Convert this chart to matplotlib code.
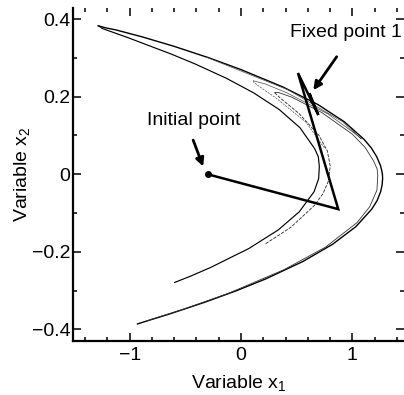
import matplotlib
matplotlib.use("Agg")
import matplotlib.pyplot as plt
from matplotlib.ticker import MultipleLocator

plt.rcParams['font.family'] = ['Liberation Sans', 'DejaVu Sans']
plt.rcParams['mathtext.fontset'] = 'custom'
plt.rcParams['mathtext.rm'] = 'Liberation Sans'
plt.rcParams['mathtext.it'] = 'Liberation Sans'

# ---- attractor strands ----
outer_x = [-0.93, -0.876, -0.639, -0.325, -0.038, 0.221, 0.556, 0.826, 1.033, 1.175, 1.223,
           1.255, 1.268, 1.273, 1.271, 1.263, 1.253, 1.220, 1.171, 1.106, 0.930, 0.690, 0.377,
           -0.001, -0.286, -0.603, -0.885, -1.121, -1.223, -1.285]
outer_y = [-0.386, -0.381, -0.36, -0.33, -0.30, -0.27, -0.225, -0.18, -0.135, -0.09, -0.068,
           -0.045, -0.028, -0.011, 0.0, 0.012, 0.023, 0.045, 0.068, 0.09, 0.135, 0.18, 0.225,
           0.27, 0.30, 0.33, 0.354, 0.372, 0.378, 0.383]

second_x = [-1.275, -1.248, -1.160, -1.023, -0.628, -0.417, -0.135, 0.113, 0.343, 0.530, 0.662,
            0.695, 0.704, 0.698, 0.657, 0.523, 0.333, 0.200, 0.068, -0.060, -0.270, -0.455, -0.597]
second_y = [0.382, 0.376, 0.367, 0.353, 0.310, 0.285, 0.248, 0.210, 0.167, 0.120, 0.066,
            0.045, 0.020, -0.011, -0.045, -0.097, -0.144, -0.168, -0.192, -0.210, -0.240, -0.263, -0.279]

band_x = [0.303, 0.336, 0.454, 0.727, 1.002, 1.116, 1.192, 1.223, 1.229, 1.222, 1.156, 1.042, 0.759,
          0.387, -0.113, -0.517, -0.805, -0.849]
band_y = [0.211, 0.211, 0.199, 0.159, 0.103, 0.069, 0.034, 0.014, -0.003, -0.041, -0.084, -0.125, -0.188,
          -0.246, -0.307, -0.348, -0.374, -0.379]

fold1_x = [0.303, 0.307, 0.351, 0.520, 0.701, 0.776, 0.802, 0.785, 0.737, 0.658, 0.447, 0.222]
fold1_y = [0.211, 0.209, 0.197, 0.157, 0.100, 0.060, 0.021, -0.018, -0.050, -0.081, -0.137, -0.179]

fold2u_x = [0.110, 0.217, 0.412, 0.778, 1.025, 1.082, 0.911, 0.420, -0.303]
fold2u_y = [0.241, 0.233, 0.210, 0.156, 0.105, 0.091, 0.136, 0.218, 0.301]

fold2l_x = [0.110, 0.119, 0.190, 0.313, 0.584, 0.752]
fold2l_y = [0.241, 0.236, 0.221, 0.197, 0.134, 0.067]

# ---- controlled trajectory ----
traj_x = [-0.30, 0.874, 0.512, 0.695, 0.615, 0.640, 0.631]
traj_y = [0.0, -0.090, 0.261, 0.153, 0.209, 0.185, 0.189]

xticks = [-1, 0, 1]
xtick_labels = ['\u22121', '0', '1']
yticks = [-0.4, -0.2, 0, 0.2, 0.4]
ytick_labels = ['\u22120.4', '\u22120.2', '0', '0.2', '0.4']

fig = plt.figure(figsize=(4.04, 3.95), dpi=100)
ax = fig.add_axes([73 / 404, 54 / 395, 331 / 404, 333.5 / 395])

ax.plot(outer_x, outer_y, color='black', lw=1.0)
ax.plot(second_x, second_y, color='black', lw=0.85)
ax.plot(band_x, band_y, color='0.2', lw=0.6)
ax.plot(fold1_x, fold1_y, color='0.15', lw=0.6, dashes=(4, 1.5))
ax.plot(fold2u_x, fold2u_y, color='0.3', lw=0.5)
ax.plot(fold2l_x, fold2l_y, color='0.3', lw=0.5, dashes=(3, 1.5))

ax.plot(traj_x, traj_y, color='black', lw=1.8, solid_joinstyle='miter')
ax.plot(traj_x[:1], traj_y[:1], 'o', color='black', ms=4)

arrow = dict(arrowstyle='-|>', color='black', lw=2, mutation_scale=12, shrinkA=0, shrinkB=0)
ax.annotate('', xy=(-0.34, 0.02), xytext=(-0.43, 0.088), arrowprops=arrow)
ax.annotate('', xy=(0.65, 0.217), xytext=(0.86, 0.303), arrowprops=arrow)
ax.text(-0.422, 0.138, 'Initial point', fontsize=14, ha='center', va='center')
ax.text(0.943, 0.366, 'Fixed point 1', fontsize=14, ha='center', va='center')

ax.set_xlim(-1.51, 1.465)
ax.set_ylim(-0.43, 0.43)
ax.set_xticks(xticks)
ax.set_xticklabels(xtick_labels)
ax.set_yticks(yticks)
ax.set_yticklabels(ytick_labels)
ax.xaxis.set_minor_locator(MultipleLocator(0.2))
ax.yaxis.set_minor_locator(MultipleLocator(0.1))
ax.tick_params(which='both', direction='in', top=True, right=True, labelsize=14, width=1.1)
ax.tick_params(which='major', length=6)
ax.tick_params(which='minor', length=3)
ax.tick_params(axis='x', pad=4)
ax.tick_params(axis='y', pad=2)
for s in ['top', 'right']:
    ax.spines[s].set_visible(False)
for s in ['left', 'bottom']:
    ax.spines[s].set_linewidth(1.6)

ax.set_xlabel('Variable x$_1$', fontsize=14, labelpad=7)
ax.set_ylabel('Variable x$_2$', fontsize=14, labelpad=0)

fig.savefig('out.png', dpi=100)
